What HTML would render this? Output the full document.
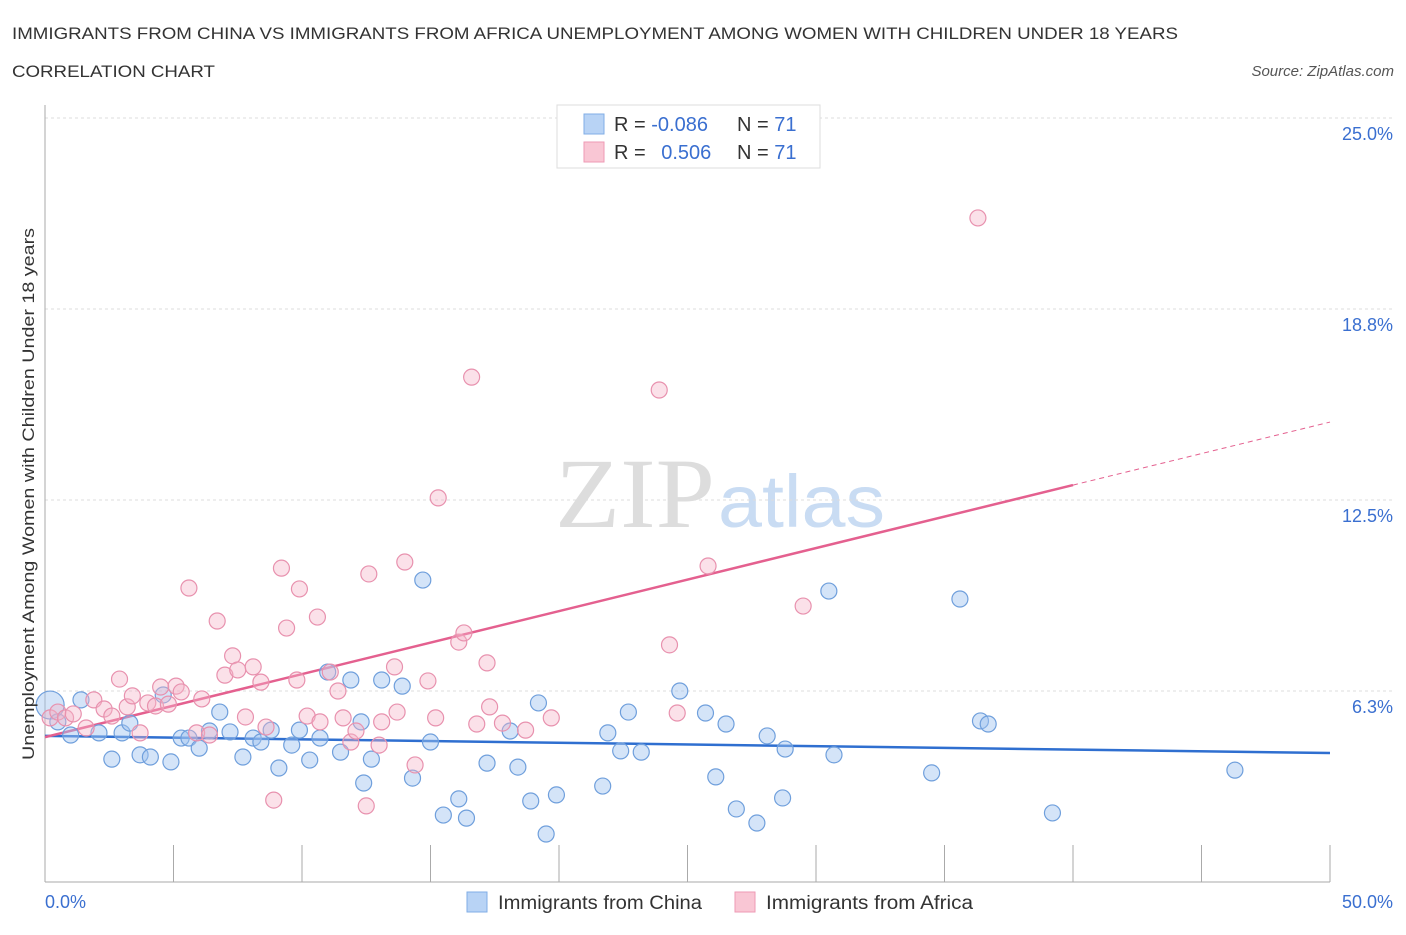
<!DOCTYPE html>
<html><head><meta charset="utf-8"><style>
body{margin:0;background:#fff;font-family:"Liberation Sans",sans-serif;}
svg text{font-family:"Liberation Sans",sans-serif;}
</style></head><body>
<svg id="chart" width="1406" height="930" xmlns="http://www.w3.org/2000/svg">
<text x="12" y="39" font-size="17" fill="#333" textLength="1166" lengthAdjust="spacingAndGlyphs">IMMIGRANTS FROM CHINA VS IMMIGRANTS FROM AFRICA UNEMPLOYMENT AMONG WOMEN WITH CHILDREN UNDER 18 YEARS</text>
<text x="12" y="77" font-size="17" fill="#333" textLength="203" lengthAdjust="spacingAndGlyphs">CORRELATION CHART</text>
<text x="1394" y="76" font-size="15" fill="#555" text-anchor="end" font-style="italic">Source: ZipAtlas.com</text>
<g>
<text x="555" y="527" font-size="100" fill="#ddd" textLength="160" lengthAdjust="spacingAndGlyphs" style="font-family:'Liberation Serif',serif">ZIP</text>
<text x="718" y="527" font-size="74" fill="#c9dcf3" textLength="167" lengthAdjust="spacingAndGlyphs">atlas</text>
</g>
<g id="grid"></g>
<g id="axes"></g>
<g id="lines"></g>
<g id="pts"></g>
<text transform="translate(34,494) rotate(-90)" font-size="17" fill="#333" text-anchor="middle" textLength="532" lengthAdjust="spacingAndGlyphs">Unemployment Among Women with Children Under 18 years</text>
<g>
<rect x="557" y="105" width="263" height="63" fill="#fff" stroke="#ddd"/>
<rect x="584" y="114" width="20" height="20" fill="#b8d3f5" stroke="#80aee6"/>
<rect x="584" y="142" width="20" height="20" fill="#f9c6d4" stroke="#ee9ab4"/>
<text x="614" y="131" font-size="20" fill="#333">R = <tspan fill="#3a6fd0">-0.086</tspan></text>
<text x="737" y="131" font-size="20" fill="#333">N = <tspan fill="#3a6fd0">71</tspan></text>
<text x="614" y="159" font-size="20" fill="#333">R = <tspan fill="#3a6fd0" dx="10">0.506</tspan></text>
<text x="737" y="159" font-size="20" fill="#333">N = <tspan fill="#3a6fd0">71</tspan></text>
</g>
<g>
<rect x="467" y="892" width="20" height="20" fill="#b8d3f5" stroke="#80aee6"/>
<text x="498" y="909" font-size="19" fill="#333" textLength="204" lengthAdjust="spacingAndGlyphs">Immigrants from China</text>
<rect x="735" y="892" width="20" height="20" fill="#f9c6d4" stroke="#ee9ab4"/>
<text x="766" y="909" font-size="19" fill="#333" textLength="207" lengthAdjust="spacingAndGlyphs">Immigrants from Africa</text>
</g>
</svg>
<script>
const yTicks=[6.25,12.5,18.75,25];
const yTickLabels=["6.3%","12.5%","18.8%","25.0%"];
const xTickVals=[0,5,10,15,20,25,30,35,40,45,50];
const chinaX=[0.2,0.5,1.0,1.4,2.1,2.6,3.0,3.3,3.7,4.1,4.6,4.9,5.3,5.6,6.0,6.4,6.8,7.2,7.7,8.1,8.4,8.8,9.1,9.6,9.9,10.3,10.7,11.0,11.5,11.9,12.3,12.4,12.7,13.1,13.9,14.3,14.7,15.0,15.5,16.1,16.4,17.2,18.1,18.4,18.9,19.2,19.5,19.9,21.7,21.9,22.4,22.7,23.2,24.7,25.7,26.1,26.5,26.9,27.7,28.1,28.7,28.8,30.5,30.7,34.5,35.6,36.4,36.7,39.2,46.3];
const chinaY=[5.79,5.24,4.81,5.96,4.88,4.02,4.88,5.20,4.16,4.09,6.12,3.93,4.71,4.71,4.38,4.94,5.56,4.91,4.09,4.71,4.58,4.97,3.73,4.48,4.97,3.99,4.71,6.87,4.25,6.61,5.24,3.24,4.02,6.61,6.41,3.40,9.88,4.58,2.19,2.72,2.09,3.89,4.94,3.76,2.65,5.86,1.57,2.85,3.14,4.88,4.29,5.56,4.25,6.25,5.53,3.44,5.17,2.39,1.93,4.78,2.75,4.35,9.52,4.16,3.57,9.26,5.27,5.17,2.26,3.66];
const africaX=[0.2,0.5,0.8,1.1,1.6,1.9,2.3,2.6,2.9,3.2,3.4,3.7,4.0,4.3,4.5,4.8,5.1,5.3,5.6,5.9,6.1,6.4,6.7,7.0,7.3,7.5,7.8,8.1,8.4,8.6,8.9,9.2,9.4,9.8,9.9,10.2,10.6,10.7,11.1,11.4,11.6,11.9,12.1,12.5,12.6,13.0,13.1,13.6,13.7,14.0,14.4,14.9,15.2,15.3,16.1,16.3,16.6,16.8,17.2,17.3,17.8,18.7,19.7,23.9,24.3,24.6,25.8,29.5,36.3];
const africaY=[5.37,5.56,5.37,5.50,5.04,5.96,5.66,5.43,6.64,5.73,6.09,4.88,5.86,5.76,6.38,5.82,6.41,6.22,9.62,4.88,5.99,4.81,8.54,6.77,7.40,6.94,5.40,7.04,6.54,5.07,2.68,10.27,8.31,6.61,9.59,5.43,8.67,5.24,6.87,6.25,5.37,4.58,4.94,2.49,10.08,4.48,5.24,7.04,5.56,10.47,3.83,6.58,5.37,12.57,7.85,8.15,16.52,5.17,7.17,5.73,5.20,4.97,5.37,16.10,7.76,5.53,10.34,9.03,21.73];
const chinaTrend=[4.78,4.22];
const africaTrend=[4.74,15.05];
const trendSolidEnd=40;

const X0=45,X1=1330,Y0=882,Ytop=118;
const xs=v=>X0+(X1-X0)*v/50;
const ys=v=>Y0-(Y0-Ytop)*v/25;
const NS="http://www.w3.org/2000/svg";
function mk(tag,attrs,parent){const e=document.createElementNS(NS,tag);for(const k in attrs)e.setAttribute(k,attrs[k]);parent.appendChild(e);return e;}
const grid=document.getElementById('grid'),axes=document.getElementById('axes'),lines=document.getElementById('lines'),pts=document.getElementById('pts');
yTicks.forEach((t,i)=>{
  const l=mk('line',{x1:X0,x2:1395,y1:ys(t),y2:ys(t),stroke:'#ddd','stroke-dasharray':'3,3'},grid);
  
  
  const tx=mk('text',{x:1393,y:ys(t)+22,'font-size':18,fill:'#3a6fd0','text-anchor':'end'},axes);
  tx.textContent=yTickLabels[i];
  
  
});
const ya=mk('line',{x1:X0,x2:X0,y1:105,y2:Y0,stroke:'#aaa'},axes);


const xa=mk('line',{x1:X0,x2:X1,y1:Y0,y2:Y0,stroke:'#aaa'},axes);


xTickVals.forEach(v=>{
  const t=mk('line',{x1:xs(v),x2:xs(v),y1:Y0-37,y2:Y0,stroke:'#aaa'},axes);
  
  
});
[[0,"0.0%","start",45],[50,"50.0%","end",1393]].forEach(a=>{
  const t=mk('text',{x:a[3],y:908,'font-size':18,fill:'#3a6fd0','text-anchor':a[2]},axes);
  t.textContent=a[1];
  
  
});
function dot(x,y,r,fill,stroke,name){
  const c=mk('circle',{cx:xs(x),cy:ys(y),r:r,fill:fill,stroke:stroke,'stroke-width':1.2},pts);
  
  
}
chinaX.forEach((x,i)=>dot(x,chinaY[i],i===0?14:8,'rgba(160,196,240,0.45)','#6f9fdc','china-point'));
africaX.forEach((x,i)=>dot(x,africaY[i],8,'rgba(244,180,200,0.4)','#e891ae','africa-point'));
const bl=mk('line',{x1:xs(0),y1:ys(chinaTrend[0]),x2:xs(50),y2:ys(chinaTrend[1]),stroke:'#2f6fd0','stroke-width':2.5},lines);


const ay=v=>africaTrend[0]+(africaTrend[1]-africaTrend[0])*v/50;
const pl=mk('line',{x1:xs(0),y1:ys(ay(0)),x2:xs(trendSolidEnd),y2:ys(ay(trendSolidEnd)),stroke:'#e4608f','stroke-width':2.5},lines);


const pd=mk('line',{x1:xs(trendSolidEnd),y1:ys(ay(trendSolidEnd)),x2:xs(50),y2:ys(ay(50)),stroke:'#e4608f','stroke-width':1,'stroke-dasharray':'5,4'},lines);


</script>
</body></html>
